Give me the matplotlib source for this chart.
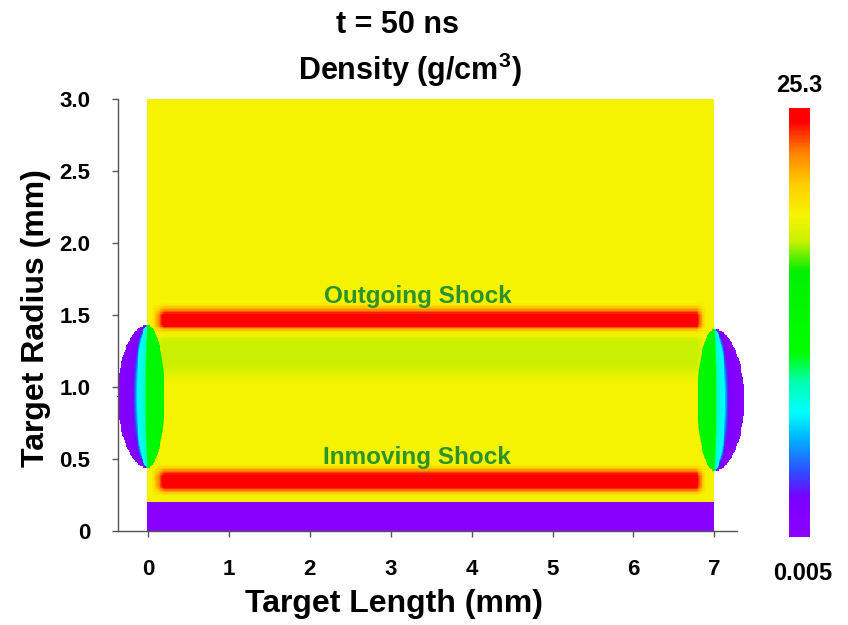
import numpy as np
import matplotlib
matplotlib.use('Agg')
import matplotlib.pyplot as plt
from matplotlib.colors import LinearSegmentedColormap, Normalize

plt.rcParams['font.family'] = ['Liberation Sans', 'DejaVu Sans']
plt.rcParams['font.weight'] = 'bold'
plt.rcParams['mathtext.fontset'] = 'custom'
plt.rcParams['mathtext.rm'] = 'Liberation Sans:bold'
plt.rcParams['mathtext.bf'] = 'Liberation Sans:bold'
plt.rcParams['mathtext.default'] = 'bf'

RHO_MIN, RHO_MAX = 0.005, 25.3
RHO_BG = 19.0          # shocked target material (yellow)

# radial density profile in the middle of the target (mm, g/cm3)
r_pts = [0.00, 0.20, 0.205, 0.25, 0.29, 0.31, 0.38, 0.42, 0.46, 1.02, 1.17,
         1.31, 1.37, 1.40, 1.43, 1.50, 1.54, 1.58, 3.00]
rho_r = [0.3, 0.3, 19.0, 19.3, 23.5, 25.3, 25.3, 22.5, 19.0, 19.0, 17.4,
         17.4, 19.0, 21.5, 25.3, 25.3, 22.0, 19.0, 19.0]

# where along the target the shock structure is present
x_env = [0.05, 0.20, 6.78, 6.90]
env_w = [0.0, 1.0, 1.0, 0.0]
R_CORE = 0.20

# end bulges (lens shaped blow-off at both faces)
bulge_face = [0.0, 7.0]
bulge_rc = [0.935, 0.91]
bulge_ar = [0.495, 0.49]
# density across the bulge, u = distance from face (mm, <0 is outside)
u_pts = [-0.37, -0.20, -0.16, -0.13, -0.04, -0.01, 0.18, 0.21]
rho_u = [0.4, 1.5, 3.8, 7.3, 8.5, 12.6, 13.0, 17.4]

cmap_stops = [(0.00, '#8c00ff'), (0.09, '#7800ff'), (0.15, '#2e4cff'),
              (0.23, '#00b4ff'), (0.29, '#00ffff'), (0.36, '#00ffb0'),
              (0.43, '#00ff00'), (0.62, '#00f000'), (0.69, '#c8f000'),
              (0.75, '#f5f500'), (0.82, '#ffd000'), (0.90, '#ff8000'),
              (0.97, '#ff0000'), (1.00, '#ff0000')]
cmap = LinearSegmentedColormap.from_list('dens', cmap_stops)
cmap.set_bad('white')

# build the field
x = np.arange(-0.40, 7.405, 0.01)
r = np.arange(0.0, 3.0, 0.01) + 0.005
X, R = np.meshgrid(x, r)

prof = np.interp(R, r_pts, rho_r)
base = RHO_BG + (prof - RHO_BG) * np.interp(X, x_env, env_w)
base = np.where(R < R_CORE, prof, base)
field = np.where((X >= 0) & (X <= 7), base, np.nan)

for i in range(2):
    s = (R - bulge_rc[i]) / bulge_ar[i]
    inside = np.abs(s) < 1
    w = np.sqrt(np.clip(1 - s ** 2, 1e-6, None))
    if i == 0:
        u = (X - bulge_face[i]) / w
    else:
        u = (bulge_face[i] - X) / w
    m = inside & (u >= u_pts[0]) & (u <= u_pts[-1])
    field[m] = np.interp(u[m], u_pts, rho_u)

fig = plt.figure(figsize=(8.48, 6.25), dpi=100)
ax = fig.add_axes([118 / 848, 94 / 625, 619 / 848, 432 / 625])

im = ax.imshow(field, origin='lower', extent=[x[0] - 0.005, x[-1] + 0.005, 0, 3.0],
               cmap=cmap, norm=Normalize(RHO_MIN, RHO_MAX), aspect='auto',
               interpolation='nearest', clip_on=False)

ax.set_xlim(-0.37, 7.28)
ax.set_ylim(0, 3.0)
ax.set_xticks(range(8))
ax.set_xticklabels([str(i) for i in range(8)])
ax.set_yticks([0, 0.5, 1.0, 1.5, 2.0, 2.5, 3.0])
ax.set_yticklabels(['0', '0.5', '1.0', '1.5', '2.0', '2.5', '3.0'])
ax.tick_params(axis='both', direction='out', length=4, width=1, color='#555555',
               labelsize=16, pad=16)
for sp in ['top', 'right']:
    ax.spines[sp].set_visible(False)
for sp in ['left', 'bottom']:
    ax.spines[sp].set_color('#555555')
    ax.spines[sp].set_linewidth(1)

ax.text(3.33, 1.625, 'Outgoing Shock', color='#2a932a', fontsize=17.5,
        fontweight='bold', ha='center', va='center')
ax.text(3.33, 0.507, 'Inmoving Shock', color='#2a932a', fontsize=17.5,
        fontweight='bold', ha='center', va='center')

fig.text(397 / 848, 1 - 25 / 625, 't = 50 ns', fontsize=22, ha='center', va='center')
fig.text(410 / 848, 1 - 70 / 625, r'Density (g/cm$^3$)', fontsize=22, ha='center', va='center')
fig.text(394 / 848, 1 - 604 / 625, 'Target Length (mm)', fontsize=23, ha='center', va='center')
fig.text(36 / 848, 1 - 318 / 625, 'Target Radius (mm)', fontsize=23, ha='center', va='center',
         rotation=90)

cax = fig.add_axes([789 / 848, (625 - 537) / 625, 21 / 848, 429 / 625])
cb = fig.colorbar(im, cax=cax)
cb.set_ticks([])
cb.outline.set_visible(False)
fig.text(799 / 848, 1 - 85 / 625, '25.3', fontsize=17, ha='center', va='center')
fig.text(803 / 848, 1 - 573 / 625, '0.005', fontsize=17, ha='center', va='center')

fig.savefig('out.png', dpi=100)
